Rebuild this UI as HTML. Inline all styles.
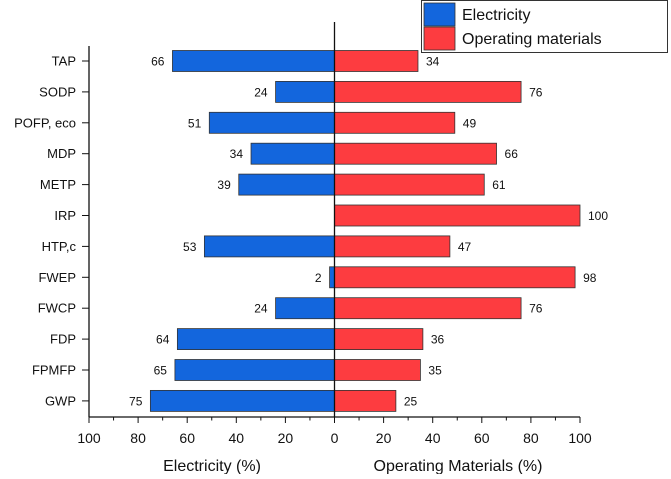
<!DOCTYPE html>
<html><head><meta charset="utf-8"><style>
body{margin:0;background:#fff;}
svg text{font-family:"Liberation Sans",Arial,sans-serif;fill:#111;}
</style></head><body>
<svg id="c" width="671" height="474" xmlns="http://www.w3.org/2000/svg"></svg>
<script>
const categories=["TAP","SODP","POFP, eco","MDP","METP","IRP","HTP,c","FWEP","FWCP","FDP","FPMFP","GWP"];
const electricity=[66,24,51,34,39,0,53,2,24,64,65,75];
const operating=[34,76,49,66,61,100,47,98,76,36,35,25];
const tickValues=[100,80,60,40,20,0,20,40,60,80,100];
const NS="http://www.w3.org/2000/svg";
const svg=document.getElementById('c');
const cx=334.5, unit=2.455, axisY=417, axisL=89, axisR=580;
const xL=v=>cx-v*unit, xR=v=>cx+v*unit;
const yC=i=>61+i*30.9;
function mk(t,a,txt){const e=document.createElementNS(NS,t);for(const k in a)e.setAttribute(k,a[k]);if(txt!==undefined)e.textContent=txt;svg.appendChild(e);return e;}
categories.forEach((c,i)=>{
 const y=yC(i);
 let t=mk('text',{x:76,y:y+4.5,'text-anchor':'end','font-size':13},c);
 
 
 let tk=mk('line',{x1:82,x2:89,y1:y,y2:y,stroke:'#111'});
 
 
 if(electricity[i]>0){
  let b=mk('rect',{x:xL(electricity[i]),y:y-10.5,width:electricity[i]*unit,height:21,fill:'#1366dd',stroke:'#333','stroke-width':0.8});
  
  
  let l=mk('text',{x:xL(electricity[i])-8,y:y+4.5,'text-anchor':'end','font-size':12},electricity[i]);
  
  
 }
 let b2=mk('rect',{x:cx,y:y-10.5,width:operating[i]*unit,height:21,fill:'#fd3c40',stroke:'#333','stroke-width':0.8});
 
 
 let l2=mk('text',{x:xR(operating[i])+8,y:y+4.5,'font-size':12},operating[i]);
 
 
});
let ya=mk('line',{x1:89,x2:89,y1:46,y2:axisY,stroke:'#111','stroke-width':1.3});


let xa=mk('line',{x1:axisL,x2:axisR,y1:axisY,y2:axisY,stroke:'#111','stroke-width':1.3});


let cl=mk('line',{x1:cx,x2:cx,y1:22,y2:axisY,stroke:'#111','stroke-width':1.3});


tickValues.forEach((v,i)=>{
 const x=i<5?xL(v):xR(v);
 let t=mk('line',{x1:x,x2:x,y1:axisY,y2:axisY+6,stroke:'#111'});
 
 
 if(i<10){const xm=(x+(i<4?xL(tickValues[i+1]):xR(tickValues[i+1])))/2;
  let m=mk('line',{x1:xm,x2:xm,y1:axisY,y2:axisY+3.5,stroke:'#111'});
  
  }
 let l=mk('text',{x:x,y:443,'text-anchor':'middle','font-size':14},v);
 
 
});
let t1=mk('text',{x:212,y:471,'text-anchor':'middle','font-size':16},'Electricity (%)');


let t2=mk('text',{x:458,y:471,'text-anchor':'middle','font-size':16},'Operating Materials (%)');


let lg=mk('rect',{x:421.5,y:0.5,width:246,height:52,fill:'#fff',stroke:'#333'});


let s1=mk('rect',{x:424,y:3,width:31,height:23,fill:'#1366dd',stroke:'#333','stroke-width':0.8});


let s2=mk('rect',{x:424,y:27,width:31,height:23,fill:'#fd3c40',stroke:'#333','stroke-width':0.8});


let e1=mk('text',{x:462,y:20,'font-size':16},'Electricity');


let e2=mk('text',{x:462,y:44,'font-size':16},'Operating materials');


</script>
</body></html>
